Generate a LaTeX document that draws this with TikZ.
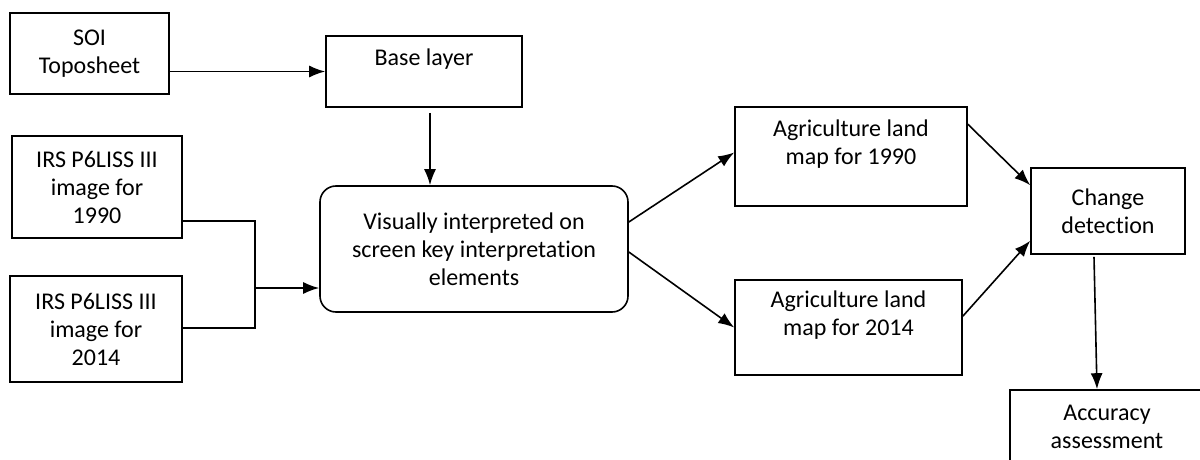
\documentclass[tikz,border=0pt]{standalone}
\usepackage{fontspec}
\setmainfont{Carlito}[Ligatures=NoCommon]
\usetikzlibrary{arrows.meta}
\begin{document}
\begin{tikzpicture}[x=0.5pt, y=-0.5pt, >={Latex[length=8pt,width=6pt]},
    box/.style={draw, line width=0.8pt, inner sep=0pt, align=center,
                font=\fontsize{12}{14}\selectfont},
    flow/.style={->, line width=0.8pt}]
    % page and clip (the last box runs off the page)
    \useasboundingbox (0,0) rectangle (1200,460);
    \clip (0,0) rectangle (1200,460);

    % input boxes
    \node[box, minimum width=79.5pt, minimum height=40.5pt] (soi) at (89.5,53.5) {SOI\\Toposheet};
    \node[box, minimum width=98pt, minimum height=35.5pt] (base) at (424,71.5) {Base layer\\~};
    \node[box, minimum width=85pt, minimum height=51pt] (irsA) at (97,187) {IRS P6LISS III\\image for\\1990};
    \node[box, minimum width=86pt, minimum height=53pt] (irsB) at (96,329) {IRS P6LISS III\\image for\\2014};

    % interpretation
    \node[box, rounded corners=8pt, minimum width=154pt, minimum height=63pt] (visual) at (474,249)
        {Visually interpreted on\\screen key interpretation\\elements};

    % output maps
    \node[box, minimum width=116pt, minimum height=49.5pt] (agriA) at (851,156.5) {Agriculture land\\map for 1990\\~};
    \node[box, minimum width=113.5pt, minimum height=47.5pt] (agriB) at (848.5,327.5) {Agriculture land\\map for 2014\\~};
    \node[box, minimum width=77pt, minimum height=43pt] (change) at (1108,211) {Change\\detection};
    \node[box, minimum width=97pt, minimum height=51pt] (accuracy) at (1107,441) {Accuracy\\assessment\\~};

    % connectors
    \draw[flow] (soi.east |- base.west) -- (base.west);
    \draw[flow] ([xshift=3pt,yshift=-2.5pt]base.south) -- ([xshift=3pt]base.south |- visual.north);

    \coordinate (forkA) at (255,221);
    \coordinate (forkB) at (255,328);
    \coordinate (fork) at (255,288);
    \draw[line width=0.8pt] (irsA.east |- forkA) -- (forkA) -- (forkB) -- (irsB.east |- forkB);
    \draw[flow] (fork) -- (visual.west |- fork);

    \draw[flow] ([yshift=13.5pt]visual.east) -- ([yshift=2pt]agriA.west);
    \draw[flow] ([yshift=-1.5pt]visual.east) -- (agriB.west);
    \draw[flow] ([yshift=-9pt]agriA.north east) -- ([yshift=-9pt]change.north west);
    \draw[flow] ([yshift=-18.5pt]agriB.north east) -- ([yshift=7pt]change.south west);
    \draw[flow] ([xshift=-7pt,yshift=-1pt]change.south) -- ([xshift=-5pt]accuracy.north);
\end{tikzpicture}
\end{document}
